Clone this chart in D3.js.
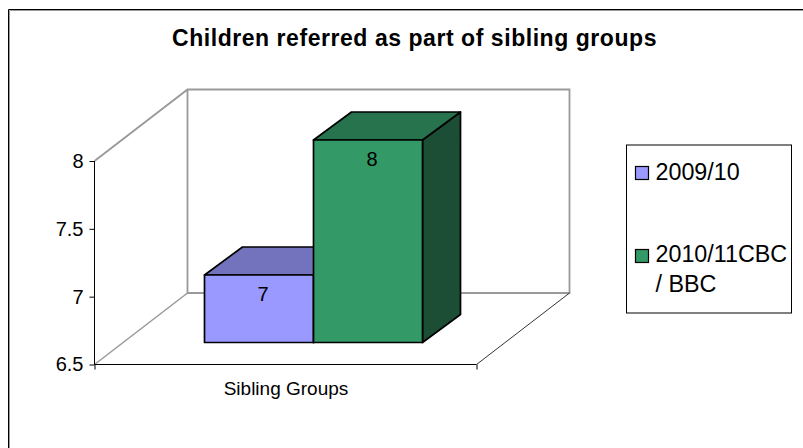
<!DOCTYPE html>
<html><head><meta charset="utf-8">
<script src="https://cdn.jsdelivr.net/npm/d3@7"></script>
<style>html,body{margin:0;padding:0;background:#fff}svg{display:block}text{font-family:"Liberation Sans",Arial,sans-serif;fill:#000}</style>
</head><body><svg id="c" width="803" height="448"></svg>
<script>
const title = "Children referred as part of sibling groups";
const category = "Sibling Groups";
const seriesNames = ["2009/10", "2010/11CBC / BBC"];
const seriesValues = [7, 8];
const yTicks = [6.5, 7, 7.5, 8];
const frontColors = ["#9999ff", "#339966"];
const topColors = ["#7373bd", "#26734d"];
const sideColors = ["#5a5a99", "#1c4d35"];

const svg = d3.select("#c");
svg.append("path").attr("d","M9.5,448V10.5H803").attr("fill","none").attr("stroke","#999");
svg.append("path").attr("d","M8.5,448V9.5H803").attr("fill","none").attr("stroke","#000");
svg.append("text").text(title).attr("x",414.5).attr("y",46).attr("text-anchor","middle")
  .attr("font-size",23).attr("font-weight","bold").attr("letter-spacing",0.55);

const y = d3.scaleLinear().domain([6.5,8]).range([364.5,161]);
const x = d3.scaleLinear().domain([0,1]).range([94.5,476.5]);
const wall = {dx:93, dy:-71.5};
const wallC = "#999";

const g = svg.append("g");
// walls
g.append("path").attr("fill","none").attr("stroke",wallC).attr("stroke-width",1.8)
 .attr("d",`M${x(0)},${y(8)}L${x(0)+wall.dx},${y(8)+wall.dy}H${x(1)+wall.dx}V${y(6.5)+wall.dy}H${x(0)+wall.dx}V${y(8)+wall.dy}`);
g.append("path").attr("fill","none").attr("stroke",wallC).attr("stroke-width",1.5)
 .attr("d",`M${x(0)},${y(6.5)}L${x(0)+wall.dx},${y(6.5)+wall.dy}`);
g.append("path").attr("fill","none").attr("stroke","#333").attr("stroke-width",1)
 .attr("d",`M${x(1)},${y(6.5)}L${x(1)+wall.dx},${y(6.5)+wall.dy}`);

// bars
const band = d3.scaleBand().domain(d3.range(seriesValues.length)).range([204.5,422.5]);
const baseY = 342.5, unit = (baseY-275)/(7-6.5);
const h = v => (v-6.5)*unit;
const depth = {dx:38, dy:-28};
seriesValues.forEach((v,i)=>{
  const x0 = band(i), w = band.bandwidth(), top = baseY-h(v);
  const b = g.append("g").attr("stroke","#000").attr("stroke-width",1.7).attr("stroke-linejoin","round");
  b.append("path").attr("fill",sideColors[i]).attr("d",`M${x0+w},${top}l${depth.dx},${depth.dy}V${baseY+depth.dy}L${x0+w},${baseY}Z`);
  b.append("path").attr("fill",topColors[i]).attr("d",`M${x0},${top}l${depth.dx},${depth.dy}H${x0+w+depth.dx}L${x0+w},${top}Z`);
  b.append("rect").attr("x",x0).attr("y",top).attr("width",w).attr("height",h(v)).attr("fill",frontColors[i]);
  g.append("text").text(v).attr("x",x0+w/2+4).attr("y",top+26).attr("text-anchor","middle").attr("font-size",20);
});

// axes
const yAxis = d3.axisLeft(y).tickValues(yTicks).tickSize(5).tickPadding(6).tickFormat(d3.format("~g"));
const ay = svg.append("g").attr("transform","translate(94.5,0)").call(yAxis);
ay.selectAll("text").attr("font-size",20).attr("font-family",'"Liberation Sans",Arial,sans-serif');
ay.selectAll("line,path").attr("stroke","#000");
ay.select(".domain").attr("d",`M0,${y(8)}V${y(6.5)}`);
const xAxis = d3.axisBottom(x).tickValues([0,1]).tickSize(5).tickFormat("");
const ax = svg.append("g").attr("transform","translate(0,364.5)").call(xAxis);
ax.selectAll("line,path").attr("stroke","#000");
ax.select(".domain").attr("d",`M${x(0)},0H${x(1)}`);
svg.append("text").text(category).attr("x",286).attr("y",395).attr("text-anchor","middle").attr("font-size",19);

// legend
svg.append("rect").attr("x",626.5).attr("y",145).attr("width",165).attr("height",168).attr("fill","#fff").attr("stroke","#000");
const leg = [{n:[seriesNames[0]],y:180},{n:["2010/11CBC","/ BBC"],y:262}];
leg.forEach((l,i)=>{
  svg.append("rect").attr("x",635.5).attr("y",166.5+(i?83:0)).attr("width",13).attr("height",13)
    .attr("fill",frontColors[i]).attr("stroke","#000").attr("stroke-width",1.2);
  l.n.forEach((t,j)=>svg.append("text").text(t).attr("x",655.5).attr("y",l.y+j*30).attr("font-size",23.3));
});
</script></body></html>
